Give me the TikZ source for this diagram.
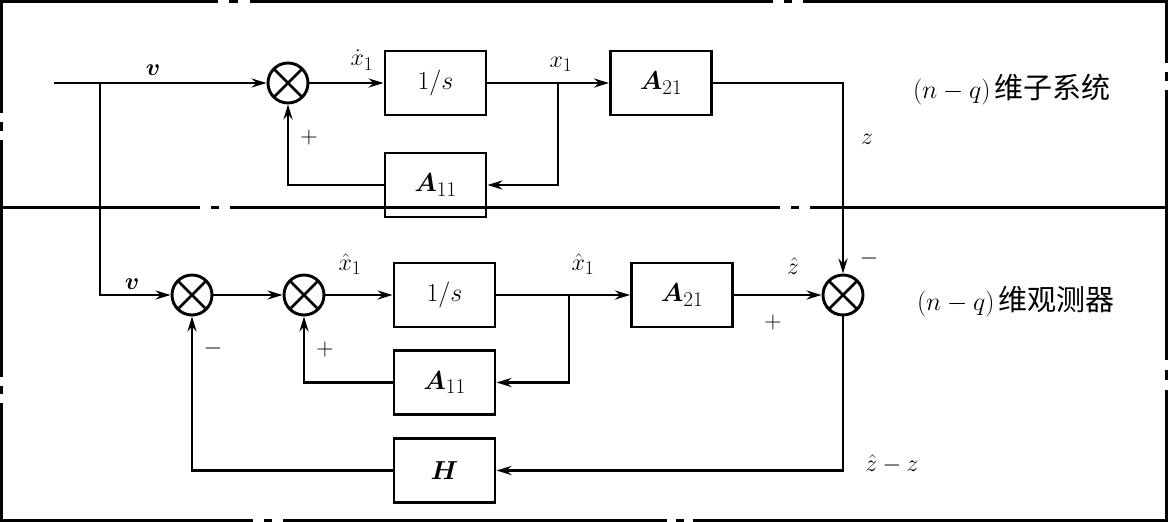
\RequirePackage{fix-cm}
\documentclass[tikz,border=0pt]{standalone}
\usepackage{fontspec}
\setmainfont{Latin Modern Roman}
\newfontfamily\cjk{Noto Sans CJK SC}
\usepackage{bm}
\DeclareMathSizes{24}{24}{19.5}{15}
\DeclareMathSizes{26}{26}{21}{16}
\usetikzlibrary{arrows.meta}
\tikzset{
  wire/.style={line width=2.7pt},
  arr/.style={wire, -{Stealth[length=15pt,width=9pt,inset=5pt]}},
  block/.style={draw, line width=2.9pt, minimum width=101pt, minimum height=64pt, inner sep=0pt,
    font=\fontsize{26}{30}\selectfont},
  sumj/.style={draw, circle, line width=2.9pt, minimum size=40pt, inner sep=0pt,
    path picture={\draw[line width=2.6pt]
      (path picture bounding box.north west) -- (path picture bounding box.south east)
      (path picture bounding box.north east) -- (path picture bounding box.south west);}},
  lbl/.style={inner sep=0pt, font=\fontsize{24}{28}\selectfont},
  title/.style={inner sep=0pt, font=\fontsize{26}{30}\selectfont},
  frame/.style={line width=3pt}
}
\begin{document}
\begin{tikzpicture}[x=1pt,y=-1pt]
\useasboundingbox (0,0) rectangle (1168,522);
% frame
\draw[frame] (0,1.5) -- (218,1.5) (229,1.5) -- (238,1.5) (250,1.5) -- (773,1.5)
  (784,1.5) -- (792,1.5) (803,1.5) -- (1168,1.5);
\draw[frame] (0,207) -- (200,207) (211,207) -- (219,207) (230,207) -- (780,207)
  (791,207) -- (799,207) (810,207) -- (1168,207);
\draw[frame] (0,520.5) -- (253,520.5) (264,520.5) -- (272,520.5) (283,520.5) -- (667,520.5)
  (676,520.5) -- (684,520.5) (693,520.5) -- (1168,520.5);
\draw[frame] (1.5,0) -- (1.5,113) (1.5,122) -- (1.5,131) (1.5,140) -- (1.5,377)
  (1.5,386) -- (1.5,394) (1.5,403) -- (1.5,522);
\draw[frame] (1166.5,0) -- (1166.5,63) (1166.5,72) -- (1166.5,81) (1166.5,90) -- (1166.5,360)
  (1166.5,370) -- (1166.5,380) (1166.5,390) -- (1166.5,522);

% top subsystem
\coordinate (in) at (54,83);
\coordinate (br0) at (100,83);
\node[sumj] (s1) at (288,83) {};
\node[block] (int1) at (435.5,83) {$1/s$};
\node[block] (a11t) at (435.5,185) {$\bm{A}_{11}$};
\node[block] (a21t) at (661,83) {$\bm{A}_{21}$};
\coordinate (b1) at (558,83);

% bottom observer
\node[sumj] (s4) at (192,295) {};
\node[sumj] (s5) at (304,295) {};
\node[block] (int2) at (444.5,295) {$1/s$};
\node[block] (a11b) at (444.5,382.5) {$\bm{A}_{11}$};
\node[block] (h) at (444.5,470.5) {$\bm{H}$};
\coordinate (b2) at (569,295);
\node[block] (a21b) at (682,295) {$\bm{A}_{21}$};
\node[sumj] (s3) at (843,295) {};

% top wires
\draw[wire] (in) -- (br0);
\draw[arr] (br0) -- (s1.west);
\draw[arr] (s1.east) -- (int1.west);
\draw[wire] (int1.east) -- (b1);
\draw[arr] (b1) -- (a21t.west);
\draw[arr] (b1) |- (a11t.east);
\draw[arr] (a11t.west) -| (s1.south);
\draw[arr] (a21t.east) -| (s3.north);

% bottom wires
\draw[arr] (br0) |- (s4.west);
\draw[arr] (s4.east) -- (s5.west);
\draw[arr] (s5.east) -- (int2.west);
\draw[wire] (int2.east) -- (b2);
\draw[arr] (b2) -- (a21b.west);
\draw[arr] (b2) |- (a11b.east);
\draw[arr] (a11b.west) -| (s5.south);
\draw[arr] (a21b.east) -- (s3.west);
\draw[arr] (s3.south) |- (h.east);
\draw[arr] (h.west) -| (s4.south);

% labels
\node[lbl] (lv1) at (153,70) {$\bm{v}$};
\node[lbl] (lxd) at (362,60) {$\dot{x}_1$};
\node[lbl] (lx1) at (561,64) {$x_1$};
\node[lbl] (lp1) at (309,137) {$+$};
\node[lbl] (lz) at (867,139) {$z$};
\node[title] (t1) at (1012,90) {$(n-q)$\,{\cjk\fontsize{29}{32}\selectfont 维子系统}};

\node[lbl] (lv2) at (132,284) {$\bm{v}$};
\node[lbl] (lxh1) at (350,264) {$\hat{x}_1$};
\node[lbl] (lp2) at (325,349) {$+$};
\node[lbl] (lm1) at (213,348) {$-$};
\node[lbl] (lxh2) at (583,264) {$\hat{x}_1$};
\node[lbl] (lzh) at (793,266) {$\hat{z}$};
\node[lbl] (lp3) at (773,322) {$+$};
\node[lbl] (lm2) at (869,258) {$-$};
\node[lbl] (lzz) at (892,464) {$\hat{z}-z$};
\node[title] (t2) at (1016,302) {$(n-q)$\,{\cjk\fontsize{29}{32}\selectfont 维观测器}};
\end{tikzpicture}
\end{document}
